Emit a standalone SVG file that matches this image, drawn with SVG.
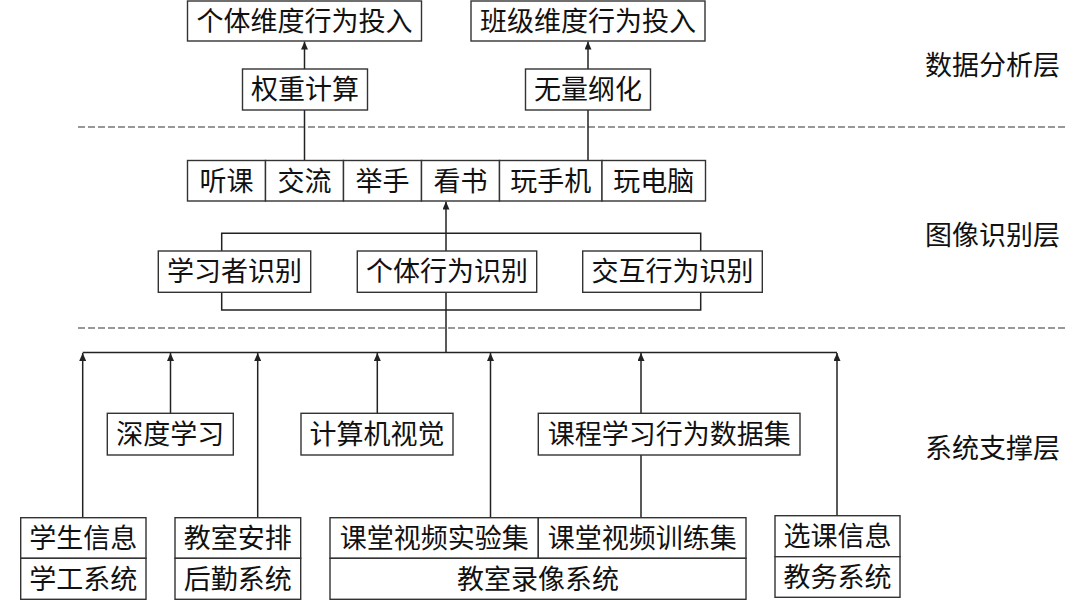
<svg xmlns="http://www.w3.org/2000/svg" width="1080" height="608" viewBox="0 0 1080 608">
<style>
.b{fill:#fff;stroke:#333;stroke-width:1.4}
.t{font-family:"Noto Sans CJK SC","Noto Sans",sans-serif;font-size:27px;fill:#111;text-anchor:middle}
.l{font-family:"Noto Sans CJK SC","Noto Sans",sans-serif;font-size:27px;fill:#111;text-anchor:end}
.c{fill:none;stroke:#222;stroke-width:1.5}
.d{fill:none;stroke:#777;stroke-width:1.5;stroke-dasharray:7 3}
</style>
<defs>
<marker id="ah" markerUnits="userSpaceOnUse" markerWidth="8" markerHeight="7" refX="8" refY="3.5" orient="auto" viewBox="0 0 8 7">
<path d="M0,0 L8,3.5 L0,7 Z" fill="#222"/>
</marker>
</defs>
<rect width="1080" height="608" fill="#fff"/>

<g id="layers">
<line class="d" x1="78" y1="127" x2="1068" y2="127"/>
<line class="d" x1="78" y1="328" x2="1068" y2="328"/>
<text class="l" x="1060" y="74.5">数据分析层</text>
<text class="l" x="1060" y="244.5">图像识别层</text>
<text class="l" x="1060" y="457.5">系统支撑层</text>
</g>

<g id="connectors">
<line class="c" x1="304.5" y1="69" x2="304.5" y2="41.5" marker-end="url(#ah)"/>
<line class="c" x1="588" y1="69" x2="588" y2="41.5" marker-end="url(#ah)"/>
<line class="c" x1="304.5" y1="110" x2="304.5" y2="160.5"/>
<line class="c" x1="588" y1="110" x2="588" y2="160.5"/>
<line class="c" x1="446" y1="251" x2="446" y2="201.5" marker-end="url(#ah)"/>
<polyline class="c" points="221.7,251 221.7,233.3 700.7,233.3 700.7,251"/>
<polyline class="c" points="221.7,292.3 221.7,310 700.7,310 700.7,292.3"/>
<line class="c" x1="446" y1="292.3" x2="446" y2="352.5"/>
<line class="c" x1="82.7" y1="352.5" x2="837" y2="352.5"/>
<line class="c" x1="82.7" y1="517.7" x2="82.7" y2="353" marker-end="url(#ah)"/>
<line class="c" x1="170.5" y1="413.3" x2="170.5" y2="353" marker-end="url(#ah)"/>
<line class="c" x1="257.7" y1="517.7" x2="257.7" y2="353" marker-end="url(#ah)"/>
<line class="c" x1="377.3" y1="413.3" x2="377.3" y2="353" marker-end="url(#ah)"/>
<line class="c" x1="490.5" y1="517.7" x2="490.5" y2="353" marker-end="url(#ah)"/>
<line class="c" x1="641" y1="413.3" x2="641" y2="353" marker-end="url(#ah)"/>
<line class="c" x1="641" y1="517.7" x2="641" y2="455"/>
<line class="c" x1="837" y1="515.7" x2="837" y2="353" marker-end="url(#ah)"/>
</g>

<g id="n-geti-touru"><rect class="b" x="187.5" y="1" width="234" height="40"/><text class="t" x="304.5" y="30.5">个体维度行为投入</text></g>
<g id="n-banji-touru"><rect class="b" x="471" y="1" width="234" height="40"/><text class="t" x="588" y="30.5">班级维度行为投入</text></g>
<g id="n-quanzhong"><rect class="b" x="242.5" y="69" width="125" height="41"/><text class="t" x="305" y="99">权重计算</text></g>
<g id="n-wuliang"><rect class="b" x="525.5" y="69" width="125" height="41"/><text class="t" x="588" y="99">无量纲化</text></g>

<g id="n-tingke"><rect class="b" x="187.5" y="160.5" width="78" height="40.5"/><text class="t" x="226.5" y="190.5">听课</text></g>
<g id="n-jiaoliu"><rect class="b" x="265.5" y="160.5" width="78" height="40.5"/><text class="t" x="304.5" y="190.5">交流</text></g>
<g id="n-jushou"><rect class="b" x="343.5" y="160.5" width="78" height="40.5"/><text class="t" x="382.5" y="190.5">举手</text></g>
<g id="n-kanshu"><rect class="b" x="421.5" y="160.5" width="78" height="40.5"/><text class="t" x="460.5" y="190.5">看书</text></g>
<g id="n-wanshouji"><rect class="b" x="499.5" y="160.5" width="102.5" height="40.5"/><text class="t" x="550.8" y="190.5">玩手机</text></g>
<g id="n-wandiannao"><rect class="b" x="602" y="160.5" width="103.5" height="40.5"/><text class="t" x="653.8" y="190.5">玩电脑</text></g>

<g id="n-xuexizhe"><rect class="b" x="158.3" y="251" width="152.4" height="41.3"/><text class="t" x="234.5" y="281">学习者识别</text></g>
<g id="n-getixingwei"><rect class="b" x="357.3" y="251" width="179.4" height="41.3"/><text class="t" x="447" y="281">个体行为识别</text></g>
<g id="n-jiaohu"><rect class="b" x="582.7" y="251" width="179.6" height="41.3"/><text class="t" x="672.5" y="281">交互行为识别</text></g>

<g id="n-shendu"><rect class="b" x="107.3" y="413.3" width="126" height="41.7"/><text class="t" x="170.3" y="443.5">深度学习</text></g>
<g id="n-jisuanji"><rect class="b" x="301" y="413.3" width="152" height="41.7"/><text class="t" x="377" y="443.5">计算机视觉</text></g>
<g id="n-kecheng"><rect class="b" x="538.3" y="413.3" width="261.7" height="41.7"/><text class="t" x="669.2" y="443.5">课程学习行为数据集</text></g>

<g id="n-xuegong"><rect class="b" x="20.7" y="517.7" width="125.3" height="40.6"/><text class="t" x="83.3" y="547.5">学生信息</text><rect class="b" x="20.7" y="558.3" width="125.3" height="41"/><text class="t" x="83.3" y="588.5">学工系统</text></g>
<g id="n-houqin"><rect class="b" x="175" y="517.7" width="125.7" height="40.6"/><text class="t" x="237.8" y="547.5">教室安排</text><rect class="b" x="175" y="558.3" width="125.7" height="41"/><text class="t" x="237.8" y="588.5">后勤系统</text></g>
<g id="n-luxiang"><rect class="b" x="330" y="517.7" width="208.3" height="40.6"/><text class="t" x="434.2" y="547.5">课堂视频实验集</text><rect class="b" x="538.3" y="517.7" width="207.7" height="40.6"/><text class="t" x="642.2" y="547.5">课堂视频训练集</text><rect class="b" x="330" y="558.3" width="416" height="41"/><text class="t" x="538" y="588.5">教室录像系统</text></g>
<g id="n-jiaowu"><rect class="b" x="775" y="515.7" width="125" height="41"/><text class="t" x="837.5" y="545.5">选课信息</text><rect class="b" x="775" y="556.7" width="125" height="40.6"/><text class="t" x="837.5" y="586.5">教务系统</text></g>
</svg>
